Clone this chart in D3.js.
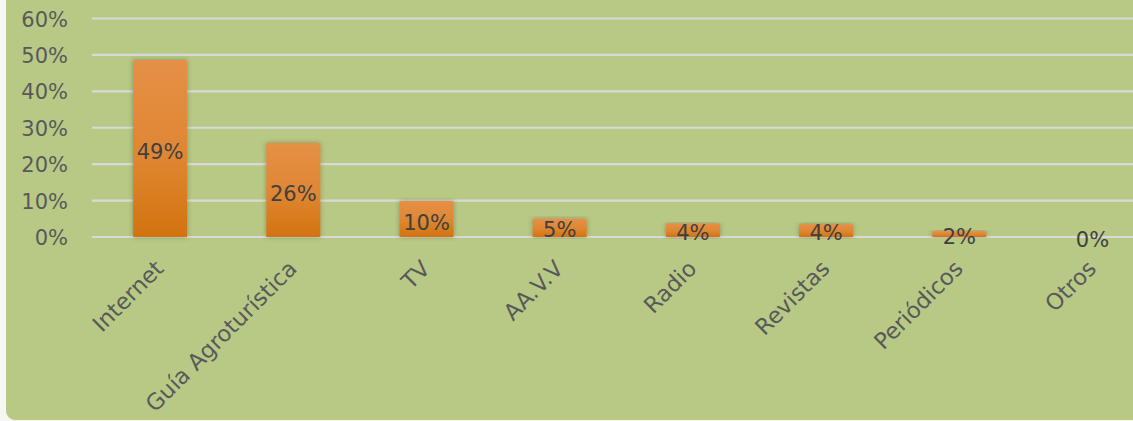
<!DOCTYPE html>
<html>
<head>
<meta charset="utf-8">
<script src="https://cdn.jsdelivr.net/npm/d3@7"></script>
<style>
  html, body { margin: 0; padding: 0; background: #f6f7f3; overflow: hidden; }
  svg { display: block; }
</style>
</head>
<body>
<div id="main"></div>
<script>
// values
let categories = ['Internet', 'Guía Agroturística', 'TV', 'AA.V.V', 'Radio', 'Revistas', 'Periódicos', 'Otros'];
let values = [0.486, 0.258, 0.099, 0.05, 0.037, 0.035, 0.016, 0];
let labels = ['49%', '26%', '10%', '5%', '4%', '4%', '2%', '0%'];
let yTicks = [0, 0.1, 0.2, 0.3, 0.4, 0.5, 0.6];

let [width, height] = [1133, 421];
let font = 'DejaVu Sans';

let svg = d3.select('#main')
  .append('svg')
  .attr('width', width)
  .attr('height', height);

let defs = svg.append('defs');
let grad = defs.append('linearGradient')
  .attr('id', 'barGrad')
  .attr('x1', 0).attr('y1', 0).attr('x2', 0).attr('y2', 1);
grad.append('stop').attr('offset', '0%').attr('stop-color', '#e59047');
grad.append('stop').attr('offset', '55%').attr('stop-color', '#df8632');
grad.append('stop').attr('offset', '100%').attr('stop-color', '#d2730f');
let shadow = defs.append('filter').attr('id', 'shadow')
  .attr('x', '-30%').attr('y', '-10%').attr('width', '160%').attr('height', '120%');
shadow.append('feDropShadow')
  .attr('dx', 0).attr('dy', 0).attr('stdDeviation', 2.5)
  .attr('flood-color', '#3a4a20').attr('flood-opacity', 0.45);

// green panel
svg.append('rect')
  .attr('x', 6).attr('y', -10)
  .attr('width', width + 10).attr('height', 430)
  .attr('rx', 9)
  .attr('fill', '#b8c986');

let x = d3.scaleBand()
  .domain(categories)
  .range([93.5, 93.5 + 133.2 * categories.length])
  .paddingInner(0.595)
  .paddingOuter(0.2975);

let y = d3.scaleLinear()
  .domain([0, 0.6])
  .range([237, 18.5]);

// gridlines
svg.append('g')
  .selectAll('line')
  .data(yTicks)
  .join('line')
  .attr('x1', 92).attr('x2', width)
  .attr('y1', d => y(d)).attr('y2', d => y(d))
  .attr('stroke', '#d9d9d9')
  .attr('stroke-width', 2.2);

// y axis labels
let yAxis = svg.append('g')
  .attr('transform', 'translate(68,0)')
  .call(d3.axisLeft(y).tickValues(yTicks).tickFormat(d3.format('.0%')).tickSize(0).tickPadding(0));
yAxis.select('.domain').remove();
yAxis.selectAll('text')
  .attr('fill', '#595959')
  .style('font-family', font)
  .style('font-size', '21px')
  .attr('dy', '0.36em');

// bars
svg.append('g')
  .selectAll('rect')
  .data(categories)
  .join('rect')
  .attr('x', d => x(d))
  .attr('y', (d, i) => y(values[i]))
  .attr('width', x.bandwidth())
  .attr('height', (d, i) => y(0) - y(values[i]))
  .attr('fill', 'url(#barGrad)')
  .attr('filter', (d, i) => values[i] > 0 ? 'url(#shadow)' : null);

// data labels, centred in the bar
svg.append('g')
  .selectAll('text')
  .data(categories)
  .join('text')
  .attr('x', d => x(d) + x.bandwidth() / 2)
  .attr('y', (d, i) => (y(values[i]) + y(0)) / 2 + (values[i] < 0.06 ? 2 : 3))
  .attr('dy', '0.36em')
  .attr('text-anchor', 'middle')
  .attr('fill', '#404040')
  .style('font-family', font)
  .style('font-size', '21px')
  .text((d, i) => labels[i]);

// category labels, rotated
let xAxis = svg.append('g')
  .attr('transform', `translate(0,${y(0)})`)
  .call(d3.axisBottom(x).tickSize(0).tickPadding(0));
xAxis.select('.domain').remove();
xAxis.selectAll('text')
  .attr('fill', '#595959')
  .style('font-family', font)
  .style('font-size', '22.5px')
  .attr('text-anchor', 'end')
  .attr('dy', null)
  .attr('y', 0)
  .attr('transform', 'translate(5,33) rotate(-45)');
</script>
</body>
</html>
